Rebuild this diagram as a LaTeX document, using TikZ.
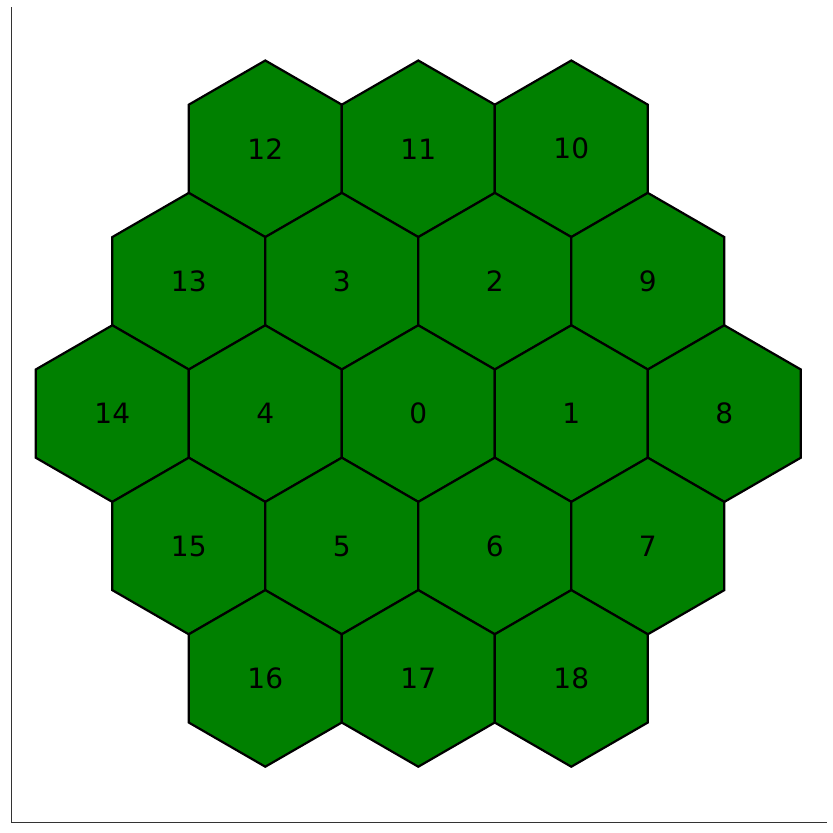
\documentclass[tikz,border=0pt]{standalone}
\usepackage{fontspec}
\setmainfont{DejaVu Sans}
\usetikzlibrary{shapes.geometric}
\definecolor{cellgreen}{HTML}{008000}
\begin{document}
\begin{tikzpicture}[x=1pt,y=-1pt]
        \useasboundingbox (0,0) rectangle (833,833);

        \tikzstyle{hex}=[regular polygon,regular polygon sides=6,shape border rotate=30,
            draw,line width=2.2pt,fill=cellgreen,minimum size=176.6pt,inner sep=0pt,
            outer sep=0pt,font=\fontsize{28}{30}\selectfont]
        \tikzstyle{spine}=[draw=black!80,line width=1.1pt]

        %axis lines, left and bottom only
        \coordinate (top) at (11.5,7);
        \coordinate (origin) at (11.5,822.7);
        \coordinate (right) at (827,822.7);
        \draw [spine] (top) -- (origin) -- (right);

        %the cells, by label / column offset / row offset
        \foreach \name/\i/\j in {12/-1/-2, 11/0/-2, 10/1/-2,
                                 13/-1.5/-1, 3/-0.5/-1, 2/0.5/-1, 9/1.5/-1,
                                 14/-2/0, 4/-1/0, 0/0/0, 1/1/0, 8/2/0,
                                 15/-1.5/1, 5/-0.5/1, 6/0.5/1, 7/1.5/1,
                                 16/-1/2, 17/0/2, 18/1/2} {
            \node [hex] (h\name) at (418.3+153*\i,413.6+132.4*\j) {\name};
        };
\end{tikzpicture}
\end{document}
